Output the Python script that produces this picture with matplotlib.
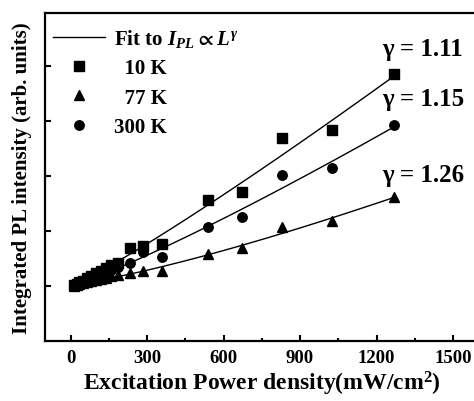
import numpy as np
import matplotlib.pyplot as plt
from matplotlib.ticker import MultipleLocator

plt.rcParams['font.family'] = ['Liberation Serif', 'DejaVu Serif']
plt.rcParams['font.weight'] = 'bold'
plt.rcParams['mathtext.fontset'] = 'custom'
plt.rcParams['mathtext.rm'] = 'Liberation Serif:bold'
plt.rcParams['mathtext.it'] = 'Liberation Serif:italic:bold'
plt.rcParams['mathtext.bf'] = 'Liberation Serif:bold'
plt.rcParams['mathtext.fallback'] = 'stix'

# excitation power density (mW/cm2)
power = [15, 25, 35, 50, 65, 80, 100, 120, 140, 160, 185,
         235, 286, 357, 541, 673, 831, 1027, 1270]
# integrated PL intensity (arb. units)
pl_10k = [1.02, 1.04, 1.07, 1.10, 1.15, 1.18, 1.24, 1.28, 1.33, 1.38, 1.42,
          1.69, 1.73, 1.76, 2.56, 2.71, 3.69, 3.84, 4.85]
pl_77k = [1.00, 1.02, 1.03, 1.05, 1.07, 1.09, 1.11, 1.13, 1.15, 1.18, 1.20,
          1.24, 1.27, 1.27, 1.58, 1.69, 2.07, 2.18, 2.62]
pl_300k = [1.01, 1.03, 1.05, 1.08, 1.11, 1.14, 1.18, 1.22, 1.26, 1.30, 1.34,
           1.42, 1.62, 1.53, 2.07, 2.26, 3.02, 3.15, 3.93]
gammas = [1.11, 1.26, 1.15]
labels = ['  10 K', '  77 K', '300 K']
markers = ['s', '^', 'o']
gamma_label_y = [5.31, 3.02, 4.40]

fig = plt.figure(figsize=(4.74, 4.02), dpi=100)
ax = fig.add_axes([0.095, 0.149, 0.9146, 0.816])

x = np.array(power, dtype=float)
handles = []
for ys, g, lab, m in zip([pl_10k, pl_77k, pl_300k], gammas, labels, markers):
    ys = np.array(ys)
    # fit y = a + b * L^gamma with the given exponent
    b, a = np.polyfit(x ** g, ys, 1)
    xf = np.linspace(x.min(), x.max(), 200)
    ax.plot(xf, a + b * xf ** g, color='black', lw=1.0)
    h, = ax.plot(x, ys, m, color='black', ms=6.8 if m != '^' else 7.5, ls='none', label=lab)
    handles.append(h)

fit_handle, = ax.plot([], [], color='black', lw=1.0, label=r'Fit to $I_{PL}\propto L^{\gamma}$')

for g, yy in zip(gammas, gamma_label_y):
    ax.text(1222, yy, 'γ = %.2f' % g, fontsize=18, fontweight='bold', va='center', ha='left')

ax.legend(handles=[fit_handle] + handles, loc='upper left', bbox_to_anchor=(0.0, 0.983),
          frameon=False, fontsize=15, handlelength=2.5, handletextpad=0.4,
          labelspacing=0.45, borderaxespad=0.05, borderpad=0.35)

ax.set_xlim(-100, 1600)
ax.set_ylim(0, 5.96)
ax.xaxis.set_major_locator(MultipleLocator(300))
ax.xaxis.set_minor_locator(MultipleLocator(150))
ax.set_yticks([1, 2, 3, 4, 5])
ax.set_yticklabels([])
ax.tick_params(axis='both', which='major', direction='in', length=4, width=1.5)
ax.tick_params(axis='x', which='minor', direction='in', length=2.5, width=1.5)
ax.tick_params(axis='x', labelsize=13.5, pad=6)
ax.tick_params(right=False)
for s in ax.spines.values():
    s.set_linewidth(1.6)

ax.set_xlabel(r'Excitation Power density(mW/cm$^{\mathbf{2}}$)', fontsize=17, fontweight='bold', labelpad=2)
ax.set_ylabel('Integrated PL intensity (arb. units)', fontsize=15, fontweight='bold', labelpad=6)

fig.savefig('out.png', dpi=100)
